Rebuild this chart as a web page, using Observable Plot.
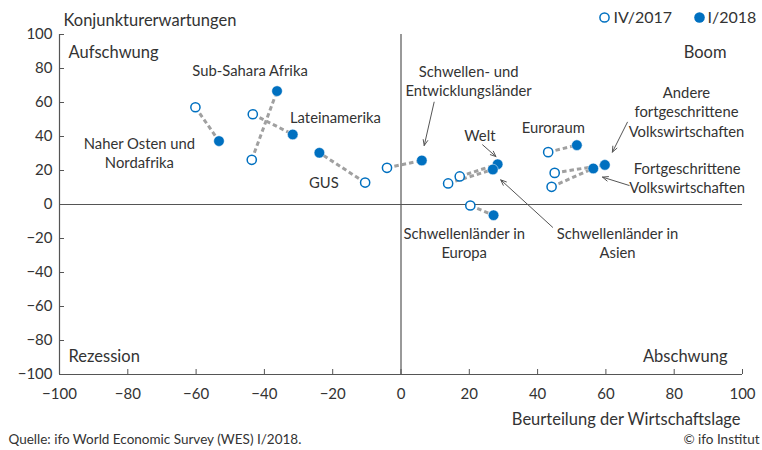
<!DOCTYPE html>
<html><head><meta charset="utf-8">
<script src="https://cdn.jsdelivr.net/npm/d3@7"></script>
<script src="https://cdn.jsdelivr.net/npm/@observablehq/plot@0.6"></script>
<style>body{margin:0;background:#fff;} svg{display:block}</style>
</head><body><div id="chart"></div>
<script>
const regions = ["Naher Osten und Nordafrika","Sub-Sahara Afrika","Lateinamerika","GUS","Schwellen- und Entwicklungsländer","Welt","Schwellenländer in Asien","Schwellenländer in Europa","Euroraum","Andere fortgeschrittene Volkswirtschaften","Fortgeschrittene Volkswirtschaften"];
const lageIV2017 = [-60.2,-43.7,-43.4,-10.5,-4.1,17.2,13.8,20.3,43.1,45.0,44.1];
const erwIV2017  = [57.2,26.3,53.1,12.9,21.6,16.5,12.4,-0.6,30.8,18.6,10.4];
const lageI2018  = [-53.3,-36.3,-31.7,-23.9,6.1,28.3,26.9,27.1,51.5,59.7,56.3];
const erwI2018   = [37.3,66.7,41.2,30.4,25.9,23.7,20.6,-6.3,34.9,23.3,21.2];
const ticks = [-100,-80,-60,-40,-20,0,20,40,60,80,100];

const labelText = ["Sub-Sahara Afrika","Naher Osten und\nNordafrika","Lateinamerika","GUS","Schwellen- und\nEntwicklungsländer","Welt","Euroraum","Andere\nfortgeschrittene\nVolkswirtschaften","Fortgeschrittene\nVolkswirtschaften","Schwellenländer in\nEuropa","Schwellenländer in\nAsien"];
const labelX = [-44.2,-76.6,-32.5,-22.6,19.8,23.1,44.6,83.6,83.8,18.5,63.4];
const labelY = [79.4,30.6,51.4,13.1,73.1,41,45.9,54.9,16.1,-22.3,-22.3];
const labelAnchor = ["middle","middle","start","middle","middle","middle","middle","middle","middle","middle","middle"];

const arrowX1 = [9.7,23.9,44.4,66.3,66.8];
const arrowY1 = [60.2,35.1,-13.4,48.4,11.2];
const arrowX2 = [6.8,27.8,29.2,61.9,59.0];
const arrowY2 = [34.7,28.2,14.5,30.8,16.1];

const data = regions.map((r,i)=>({region:r, xa:lageIV2017[i], ya:erwIV2017[i], xb:lageI2018[i], yb:erwI2018[i]}));
const labels = labelText.map((t,i)=>({t, x:labelX[i], y:labelY[i], a:labelAnchor[i]}));
const arrows = arrowX1.map((v,i)=>({x1:v,y1:arrowY1[i],x2:arrowX2[i],y2:arrowY2[i]}));

const blue = "#0070c0";
const ink = "#333";
const font = "Lato, sans-serif";

const chart = Plot.plot({
  width: 762, height: 450,
  marginLeft: 59, marginRight: 20, marginTop: 34, marginBottom: 76,
  style: {fontFamily: font, fontSize: "15px", color: ink, background: "#fff"},
  x: {domain: [-100,100], ticks, tickFormat: d=>String(d)},
  y: {domain: [-100,100], ticks, tickFormat: d=>String(d)},
  marks: [
    Plot.ruleX([0], {stroke: "#555", strokeWidth: 1.2}),
    Plot.ruleY([0], {stroke: "#555", strokeWidth: 1.2}),
    Plot.ruleX([-100], {stroke: "#555", strokeWidth: 1.2}),
    Plot.ruleY([-100], {stroke: "#555", strokeWidth: 1.2}),
    Plot.axisX({ticks, tickSize: -5, stroke: "#555", fill: "none", label: null}),
    Plot.axisY({ticks, tickSize: -5, stroke: "#555", fill: "none", label: null}),
    Plot.axisX({ticks, tickSize: 0, tickPadding: 14, fontSize: 15, fill: ink, label: null}),
    Plot.axisY({ticks, tickSize: 0, tickPadding: 7, fontSize: 15, fill: ink, label: null}),
    Plot.link(data, {x1: "xa", y1: "ya", x2: "xb", y2: "yb", stroke: "#a0a0a0", strokeWidth: 3, strokeDasharray: "4.5,3"}),
    Plot.arrow(arrows, {x1: "x1", y1: "y1", x2: "x2", y2: "y2", stroke: "#555", strokeWidth: 1, headLength: 9, headAngle: 45}),
    Plot.dot(data, {x: "xa", y: "ya", r: 4.6, stroke: blue, strokeWidth: 1.5, fill: "white"}),
    Plot.dot(data, {x: "xb", y: "yb", r: 5.3, fill: blue, stroke: "white", strokeWidth: 0.5}),
    Plot.text(labels.filter(d=>d.a==="middle"), {x: "x", y: "y", text: "t", textAnchor: "middle", fontSize: 14.8, lineHeight: 1.31, fill: ink}),
    Plot.text(labels.filter(d=>d.a==="start"), {x: "x", y: "y", text: "t", textAnchor: "start", fontSize: 14.8, lineHeight: 1.31, fill: ink}),
    Plot.text(["Aufschwung"], {frameAnchor: "top-left", dx: 9, dy: 18, textAnchor: "start", lineAnchor: "middle", fontSize: 16.5, fill: ink}),
    Plot.text(["Boom"], {frameAnchor: "top-right", dx: -16, dy: 18, textAnchor: "end", lineAnchor: "middle", fontSize: 16.5, fill: ink}),
    Plot.text(["Rezession"], {frameAnchor: "bottom-left", dx: 9, dy: -18, textAnchor: "start", lineAnchor: "middle", fontSize: 16.5, fill: ink}),
    Plot.text(["Abschwung"], {frameAnchor: "bottom-right", dx: -15, dy: -18, textAnchor: "end", lineAnchor: "middle", fontSize: 16.5, fill: ink}),
    Plot.text(["Konjunkturerwartungen"], {frameAnchor: "top-left", dx: 4, dy: -14, textAnchor: "start", lineAnchor: "middle", fontSize: 16.5, fill: ink}),
    Plot.text(["Beurteilung der Wirtschaftslage"], {frameAnchor: "bottom-right", dx: -2, dy: 45, textAnchor: "end", lineAnchor: "middle", fontSize: 16.5, fill: ink}),
    Plot.text(["Quelle: ifo World Economic Survey (WES) I/2018."], {frameAnchor: "bottom-left", dx: -51, dy: 65, textAnchor: "start", lineAnchor: "middle", fontSize: 13.5, fill: ink}),
    Plot.text(["© ifo Institut"], {frameAnchor: "bottom-right", dx: 17, dy: 65, textAnchor: "end", lineAnchor: "middle", fontSize: 13.5, fill: ink}),
    Plot.dot([0], {frameAnchor: "top-right", dx: -138, dy: -17, r: 4.6, stroke: blue, strokeWidth: 1.5, fill: "white"}),
    Plot.text(["IV/2017"], {frameAnchor: "top-right", dx: -129, dy: -17, textAnchor: "start", lineAnchor: "middle", fontSize: 16, fill: ink}),
    Plot.dot([0], {frameAnchor: "top-right", dx: -43, dy: -17, r: 5.3, fill: blue}),
    Plot.text(["I/2018"], {frameAnchor: "top-right", dx: -35, dy: -17, textAnchor: "start", lineAnchor: "middle", fontSize: 16, fill: ink})
  ]
});
document.getElementById("chart").appendChild(chart);
</script>
</body></html>
